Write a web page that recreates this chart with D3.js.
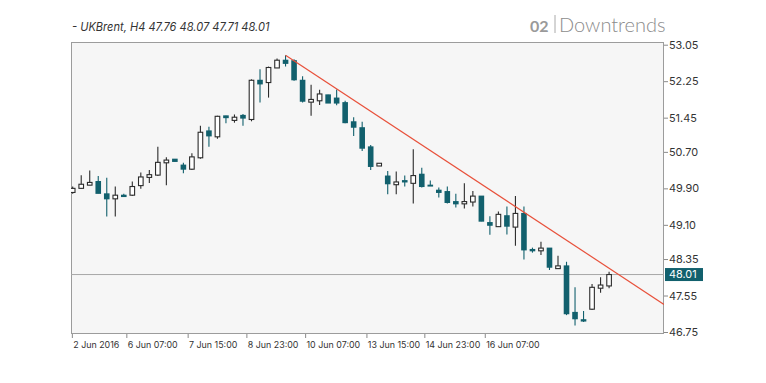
<!DOCTYPE html>
<html><head><meta charset="utf-8">
<script src="https://cdn.jsdelivr.net/npm/d3@7"></script>
<style>body{margin:0;background:#fff;} svg{display:block}</style>
</head><body><svg id="c" width="766" height="383"></svg>
<script>
const opens  = [49.81,49.90,49.97,50.05,49.78,49.67,49.75,49.75,49.96,50.14,50.19,50.46,50.54,50.41,50.32,50.57,51.16,51.03,51.49,51.39,51.50,51.41,52.27,52.22,52.54,52.71,52.70,52.27,51.79,51.82,51.95,51.88,51.78,51.36,51.23,50.81,50.39,50.17,49.98,50.07,50.01,50.21,49.97,49.86,49.83,49.61,49.56,49.60,49.73,49.15,49.06,49.30,49.05,49.35,48.56,48.53,48.59,48.14,48.20,47.18,47.02,47.25,47.71,47.76];
const highs  = [49.94,50.19,50.29,50.17,50.13,49.94,49.78,50.05,50.25,50.30,50.81,50.58,50.54,50.46,50.67,51.27,51.25,51.49,51.49,51.52,51.53,52.29,52.51,52.57,52.75,52.82,52.73,52.36,52.17,52.06,51.95,52.07,51.82,51.46,51.36,50.85,50.45,50.28,50.27,50.18,50.76,50.35,50.07,49.92,49.94,49.78,50.01,49.84,49.73,49.29,49.39,49.50,49.73,49.50,48.60,48.73,48.59,48.42,48.29,47.73,47.21,47.80,47.95,48.07];
const lows   = [49.78,49.89,49.97,49.79,49.28,49.28,49.72,49.73,49.89,50.02,50.17,49.97,50.49,50.23,50.30,50.55,50.81,50.99,51.33,51.34,51.27,51.37,51.78,51.89,52.54,52.57,52.26,51.78,51.49,51.73,51.77,51.72,51.33,51.05,50.72,50.30,50.39,49.77,49.77,49.94,49.57,49.92,49.95,49.70,49.57,49.48,49.46,49.50,49.18,48.88,49.05,48.89,48.64,48.34,48.49,48.44,48.11,48.14,47.12,46.89,46.97,47.23,47.61,47.71];
const closes = [49.90,49.99,50.03,49.79,49.67,49.75,49.72,49.94,50.15,50.20,50.47,50.52,50.49,50.32,50.59,51.13,51.05,51.48,51.45,51.46,51.44,52.27,52.19,52.55,52.71,52.64,52.28,51.81,51.85,51.97,51.77,51.77,51.34,51.24,50.78,50.38,50.45,50.00,50.04,50.04,50.18,49.94,49.95,49.81,49.59,49.56,49.61,49.73,49.18,49.09,49.33,49.07,49.35,48.55,48.53,48.59,48.17,48.20,47.15,47.04,46.99,47.73,47.78,48.01];
const yTicks = [53.05,52.25,51.45,50.70,49.90,49.10,48.35,47.55,46.75];
const xTickPos = [-0.1,6.3,13.5,20.4,27.3,34.5,41.3,48.4];
const xTickLabels = ["2 Jun 2016","6 Jun 07:00","7 Jun 15:00","8 Jun 23:00","10 Jun 07:00","13 Jun 15:00","14 Jun 23:00","16 Jun 07:00"];
const trendStart = [25, 52.82];
const trendEnd = [69.45, 47.355];
const lastPrice = 48.01;
const titleText = "- UKBrent, H4 47.76 48.07 47.71 48.01";

const TEAL = "#12606d", DARK = "#2b2b2b", FONT = "Inter, Lato, sans-serif";
const L = 71, R = 664, T = 42, B = 334;
const svg = d3.select("#c");
const x = d3.scaleLinear().domain([-0.2, 69.45]).range([L, R]);
const y = d3.scaleLinear().domain([46.75, 53.05]).range([332, 44.7]);

// scale a text selection's font so that its first node reaches the target width
function fit(sel, base, target){
  sel.style("font-size", base+"px");
  const w = sel.node().getComputedTextLength();
  if (w > 0) sel.style("font-size", (base*target/w).toFixed(2)+"px");
}

svg.append("defs").append("clipPath").attr("id","clip")
  .append("rect").attr("x",L).attr("y",T).attr("width",R-L).attr("height",B-T);

svg.append("rect").attr("x",L+0.5).attr("y",T+0.5).attr("width",R-L-1).attr("height",B-T-1)
  .attr("fill","#f6f6f6").attr("stroke","#9c9c9c").attr("stroke-width",1);

const g = svg.append("g").attr("clip-path","url(#clip)");

g.append("line").attr("x1",L).attr("x2",R).attr("y1",y(lastPrice)).attr("y2",y(lastPrice))
  .attr("stroke","#a8a8a8").attr("stroke-width",1);

const data = opens.map((o,i)=>({i,o,h:highs[i],l:lows[i],c:closes[i]}));
const cg = g.selectAll("g.cd").data(data).join("g").attr("class","cd");
cg.append("line")
  .attr("x1",d=>x(d.i)).attr("x2",d=>x(d.i))
  .attr("y1",d=>y(d.h)).attr("y2",d=>y(d.l))
  .attr("stroke",d=>d.c>=d.o?DARK:TEAL).attr("stroke-width",1.1);
cg.append("rect")
  .attr("x",d=>d.c>=d.o? x(d.i)-2.3 : x(d.i)-2.8)
  .attr("width",d=>d.c>=d.o?4.6:5.6)
  .attr("y",d=>y(Math.max(d.o,d.c)) - (d.c>=d.o?0:0.5))
  .attr("height",d=>Math.max(1.2, Math.abs(y(d.o)-y(d.c)) + (d.c>=d.o?0:1)))
  .attr("fill",d=>d.c>=d.o?"#ffffff":TEAL)
  .attr("stroke",d=>d.c>=d.o?DARK:"none").attr("stroke-width",1.1);

g.append("line").attr("x1",x(trendStart[0])).attr("y1",y(trendStart[1]))
  .attr("x2",x(trendEnd[0])).attr("y2",y(trendEnd[1]))
  .attr("stroke","#e8503a").attr("stroke-width",1.2);

// y axis
const ya = svg.append("g").attr("transform",`translate(${R},0)`)
  .call(d3.axisRight(y).tickValues(yTicks).tickFormat(d3.format(".2f")).tickSize(4).tickPadding(1));
ya.select(".domain").remove();
ya.selectAll(".tick line").attr("stroke","#8a8a8a");
const yt = ya.selectAll("text").attr("fill","#333").style("font-family",FONT);
fit(yt, 10, 29.4);
const ySize = yt.style("font-size");

// price label
const pl = svg.append("g");
pl.append("rect").attr("x",R+1).attr("y",y(lastPrice)-6.5).attr("width",38).attr("height",13).attr("fill",TEAL);
pl.append("text").attr("x",R+5).attr("y",y(lastPrice)).attr("dy","0.35em").attr("fill","#fff")
  .style("font-family",FONT).style("font-size",ySize).text(d3.format(".2f")(lastPrice));

// x axis
const xa = svg.append("g").attr("transform",`translate(0,${B})`)
  .call(d3.axisBottom(x).tickValues(xTickPos).tickFormat((d,i)=>xTickLabels[i]).tickSize(4).tickPadding(4));
xa.select(".domain").remove();
xa.selectAll(".tick line").attr("stroke","#8a8a8a");
const xt = xa.selectAll("text").attr("fill","#333").attr("text-anchor","start").attr("dx","0.1em")
  .style("font-family",FONT);
fit(d3.select(xt.nodes()[1]), 9, 50);
xt.style("font-size", d3.select(xt.nodes()[1]).style("font-size"));

// title
const tt = svg.append("text").attr("x",72).attr("y",31).attr("fill","#333")
  .style("font-family",FONT).style("font-style","italic").text(titleText);
fit(tt, 10, 197.6);

// header
svg.append("text").attr("x",530).attr("y",31.5).attr("fill","#9a9a9a")
  .style("font-family","Lato, sans-serif").style("font-weight","700").style("font-size","16px").text("02");
svg.append("line").attr("x1",555).attr("x2",555).attr("y1",15).attr("y2",33).attr("stroke","#aaa").attr("stroke-width",1);
svg.append("text").attr("x",559).attr("y",31.5).attr("fill","#8c8c8c")
  .style("font-family","Lato, sans-serif").style("font-weight","300").style("font-size","20px").text("Downtrends");
</script></body></html>
